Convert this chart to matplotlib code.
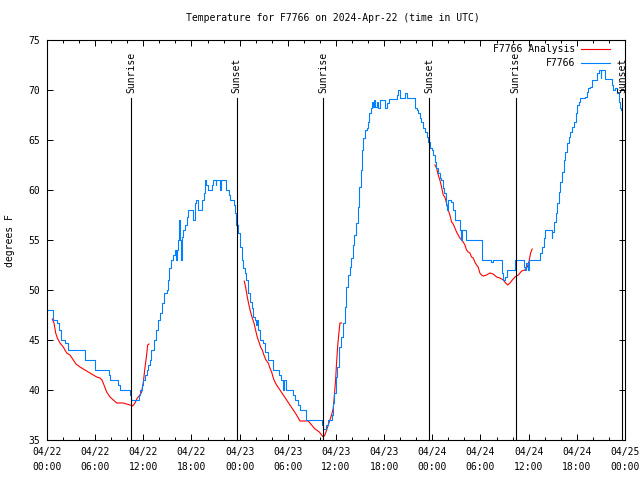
import matplotlib
matplotlib.use("Agg")
import matplotlib.pyplot as plt
import numpy as np

# horas desde 04/22 00:00 UTC
obs_t = [0.0, 0.8, 1.2, 1.5, 1.7, 2.3, 2.6, 4.7, 5.95, 7.7, 7.9, 8.8, 9.05,
         10.3, 10.5, 11.2, 11.4, 11.6, 11.8, 12.0, 12.2, 12.4, 12.6, 12.8, 13.0,
         13.3, 13.55, 13.8, 14.05, 14.3, 14.55, 14.9, 15.1, 15.25, 15.5, 15.7,
         15.9, 16.1, 16.2, 16.35, 16.5, 16.6, 16.7, 16.85, 17.0, 17.2, 17.4,
         17.6, 18.0, 18.2, 18.4, 18.55, 18.75, 19.3, 19.5, 19.65, 19.8, 20.0,
         20.55, 20.7, 21.0, 21.1, 21.5, 21.7, 22.2, 22.35, 22.7, 22.8, 23.3,
         23.4, 23.6, 23.8, 24.0, 24.25, 24.45, 24.65, 24.85, 25.05, 25.3, 25.5,
         25.7, 25.9, 26.0, 26.1, 26.3, 26.5, 26.95, 27.15, 27.55, 28.15, 28.9,
         29.2, 29.4, 29.55, 29.8, 30.7, 30.9, 31.3, 31.5, 32.3, 34.2, 34.35,
         34.8, 34.95, 35.5, 35.6, 35.75, 35.95, 36.15, 36.4, 36.65, 36.9, 37.1,
         37.3, 37.5, 37.7, 37.9, 38.1, 38.3, 38.5, 38.7, 38.9, 39.15, 39.3,
         39.4, 39.6, 39.8, 40.0, 40.15, 40.3, 40.5, 40.65, 40.75, 40.9, 41.05,
         41.25, 41.45, 42.05, 42.35, 42.6, 43.55, 43.75, 44.0, 44.6, 44.85,
         45.8, 46.05, 46.25, 46.45, 46.65, 46.85, 47.05, 47.3, 47.5, 47.7,
         47.9, 48.1, 48.3, 48.5, 48.7, 48.9, 49.1, 49.3, 49.5, 49.7, 49.85,
         50.0, 50.35, 50.55, 50.8, 51.45, 51.6, 51.75, 52.2, 54.15, 55.35,
         55.5, 56.65, 56.85, 57.1, 57.3, 58.35, 59.4, 59.55, 59.7, 59.9, 60.1,
         61.45, 61.65, 61.85, 62.05, 62.85, 62.95, 63.15, 63.35, 63.55, 63.75,
         63.95, 64.15, 64.35, 64.55, 64.8, 65.0, 65.2, 65.4, 65.6, 65.85,
         66.05, 66.25, 66.45, 67.05, 67.25, 67.45, 67.7, 67.9, 68.55, 68.7,
         68.95, 69.05, 69.5, 70.35, 70.55, 70.8, 71.05, 71.2, 71.35, 71.5]
obs_v = [48, 47, 46.7, 46, 45, 44.7, 44, 43, 42, 41.5, 41, 40.5, 40,
         39.5, 39, 39, 39.5, 40, 40.5, 41, 41.5, 42, 42.5, 43, 44,
         45, 46, 47, 47.7, 48.7, 49.7, 50, 51, 52.2, 53, 53.5,
         54, 53, 54, 55, 57, 55, 53, 55.3, 56, 56.5, 57.3,
         58, 58, 57, 58.7, 59, 58, 59, 59.7, 61, 60.5, 60,
         60.5, 61, 60.5, 61, 60, 61, 61, 60, 59.5, 59, 58.5,
         57.7, 56.5, 55.7, 54.3, 53, 52.2, 51.7, 51, 49.7, 48.8, 48.2,
         47.3, 47, 46.5, 47, 46, 45, 44.7, 43.8, 43, 42, 41.5,
         41, 40, 41, 40, 39.5, 39, 38.5, 38, 37, 36.5, 36.1,
         36.5, 37, 37.5, 38.7, 39.7, 41.3, 42.3, 44.3, 45.3, 46.7, 48.3,
         50.3, 51.5, 52.3, 53.2, 54.5, 55.5, 56.7, 58.3, 60.3, 62, 64,
         65.2, 66, 66.2, 66.8, 67.7, 68.2, 68.8, 68.3, 69, 68.3, 68.8,
         68.2, 69, 68.2, 68.7, 69.1, 69.5, 70, 69.2, 69.7, 69.2,
         68.2, 68, 67.7, 67.2, 66.8, 66.2, 65.8, 65.3, 64.8, 64.2,
         64, 63.5, 62.8, 62.2, 61.7, 61.2, 61, 60.2, 59.7, 58.5, 58,
         59, 58.8, 58, 57, 56, 55, 56, 55, 53, 52.8,
         53, 51.7, 51, 51.3, 52, 53, 52.3, 52, 52.7, 52, 53,
         53.7, 54.3, 55.2, 56, 55.2, 55.8, 56.8, 57.7, 58.7, 59.8,
         60.8, 61.8, 63, 63.8, 64.7, 65.3, 65.8, 66.3, 66.8, 67.7,
         68.5, 68.8, 69.2, 69.3, 69.8, 70.2, 70.3, 71, 71.7, 72,
         71.2, 72, 71.1, 70.5, 70, 70.2, 69.7, 68.8, 68.2, 68]

ana1_t = [0.66, 0.87, 1.08, 1.29, 1.62, 2.03, 2.45, 2.86, 3.28, 3.61, 4.11, 4.52,
          4.94, 5.35, 5.77, 6.19, 6.6, 6.85, 7.1, 7.43, 7.85, 8.26, 8.68, 9.51,
          9.92, 10.34, 10.67, 10.96, 11.25, 11.58, 11.79, 12.0, 12.2, 12.41,
          12.54, 12.7]
ana1_v = [47.1, 46.7, 45.7, 45.2, 44.7, 44.3, 43.7, 43.5, 43.0, 42.6, 42.3, 42.1,
          41.9, 41.7, 41.5, 41.3, 41.2, 41.0, 40.5, 39.8, 39.3, 39.0, 38.7, 38.7,
          38.6, 38.5, 38.4, 38.7, 39.2, 39.5, 39.8, 40.8, 42.2, 43.5,
          44.5, 44.6]
ana2_t = [24.57, 24.74, 24.95, 25.15, 25.36, 25.57, 25.78, 25.98, 26.19, 26.4,
          26.61, 26.82, 27.02, 27.27, 27.56, 27.77, 27.98, 28.19, 28.39, 28.6,
          29.02, 29.43, 29.85, 30.26, 30.68, 31.09, 31.51, 32.55, 32.96, 33.38,
          33.92, 34.21, 34.41, 34.62, 34.83, 35.04, 35.24, 35.45, 35.66, 35.78,
          35.95, 36.07, 36.2, 36.36, 36.49, 36.7]
ana2_v = [50.9, 50.3, 49.3, 48.5, 47.8, 47.2, 46.7, 46.0, 45.3, 44.8,
          44.3, 44.0, 43.5, 43.0, 42.7, 42.2, 41.8, 41.2, 40.8, 40.5,
          40.0, 39.5, 39.0, 38.5, 38.0, 37.5, 36.9, 36.9, 36.5, 36.1,
          35.8, 35.5, 35.3, 35.5, 36.0, 36.5, 37.0, 37.5, 38.2, 39.3,
          41.0, 42.7, 44.3, 45.7, 46.7, 46.7]
ana3_t = [48.32, 48.53, 48.73, 48.94, 49.15, 49.36, 49.56, 49.77, 49.98, 50.19,
          50.4, 50.6, 50.81, 51.02, 51.22, 51.43, 51.64, 51.85, 52.05, 52.26,
          52.47, 52.68, 52.88, 53.09, 53.3, 53.5, 53.71, 53.92, 54.13, 54.34,
          54.75, 55.17, 55.58, 56.01, 56.42, 56.84, 57.13, 57.38, 57.67, 57.96,
          58.29, 58.71, 59.12, 59.53, 59.82, 60.03, 60.24, 60.44]
ana3_v = [62.5, 62.2, 61.5, 61.0, 60.3, 59.5, 59.3, 58.7, 58.0, 57.5,
          56.8, 56.6, 56.2, 55.8, 55.5, 55.2, 55.0, 54.8, 54.5, 54.0,
          53.8, 53.7, 53.3, 53.2, 52.8, 52.5, 52.3, 51.7, 51.5, 51.4,
          51.5, 51.7, 51.6, 51.3, 51.2, 51.0, 50.7, 50.5, 50.7, 51.0,
          51.3, 51.5, 51.9, 52.0, 52.3, 52.8, 53.7, 54.1]

eventos_t = [10.45, 23.65, 34.42, 47.62, 58.38, 71.62]
eventos = ["Sunrise", "Sunset", "Sunrise", "Sunset", "Sunrise", "Sunset"]

ticks_t = list(range(0, 73, 6))
ticks_lab = ["04/22\n00:00", "04/22\n06:00", "04/22\n12:00", "04/22\n18:00",
             "04/23\n00:00", "04/23\n06:00", "04/23\n12:00", "04/23\n18:00",
             "04/24\n00:00", "04/24\n06:00", "04/24\n12:00", "04/24\n18:00",
             "04/25\n00:00"]

ROJO = "#ff0000"
AZUL = "#0080ff"
plt.rcParams["font.family"] = "DejaVu Sans Mono"
plt.rcParams["font.size"] = 7

fig = plt.figure(figsize=(6.4, 4.8), dpi=100)
ax = fig.add_axes([47/640, 40/480, 578/640, 400/480])

for t, v in [(ana1_t, ana1_v), (ana2_t, ana2_v), (ana3_t, ana3_v)]:
    ax.plot(t, v, color=ROJO, lw=0.8)
ax.plot(obs_t, obs_v, color=AZUL, lw=0.8, drawstyle="steps-post")

for x, nombre in zip(eventos_t, eventos):
    ax.plot([x, x], [35, 69.2], color="black", lw=0.8)
    ax.text(x, 69.7, nombre, rotation=90, ha="center", va="bottom")

ax.set_xlim(0, 72)
ax.set_ylim(35, 75)
ax.set_xticks(ticks_t)
ax.set_xticklabels(ticks_lab, linespacing=1.6)
ax.set_xticks(range(0, 73, 2), minor=True)
ax.set_yticks(range(35, 76, 5))
ax.tick_params(which="both", direction="in", top=True, right=True, width=0.7)
ax.tick_params(which="major", length=4.5, pad=5)
ax.tick_params(which="minor", length=2.5)
for s in ax.spines.values():
    s.set_linewidth(0.8)

# leyenda a mano, texto alineado a la derecha como gnuplot
for y, nombre, color in [(0.9775, "F7766 Analysis", ROJO), (0.9425, "F7766", AZUL)]:
    ax.text(0.9135, y, nombre, transform=ax.transAxes, ha="right", va="center")
    ax.plot([0.924, 0.974], [y, y], transform=ax.transAxes, color=color, lw=0.8)

fig.text(333/640, 1 - 18/480, "Temperature for F7766 on 2024-Apr-22 (time in UTC)",
         ha="center", va="center")
fig.text(10/640, 1 - 241/480, "degrees F", rotation=90, ha="center", va="center")

plt.savefig("out.png", dpi=100)
